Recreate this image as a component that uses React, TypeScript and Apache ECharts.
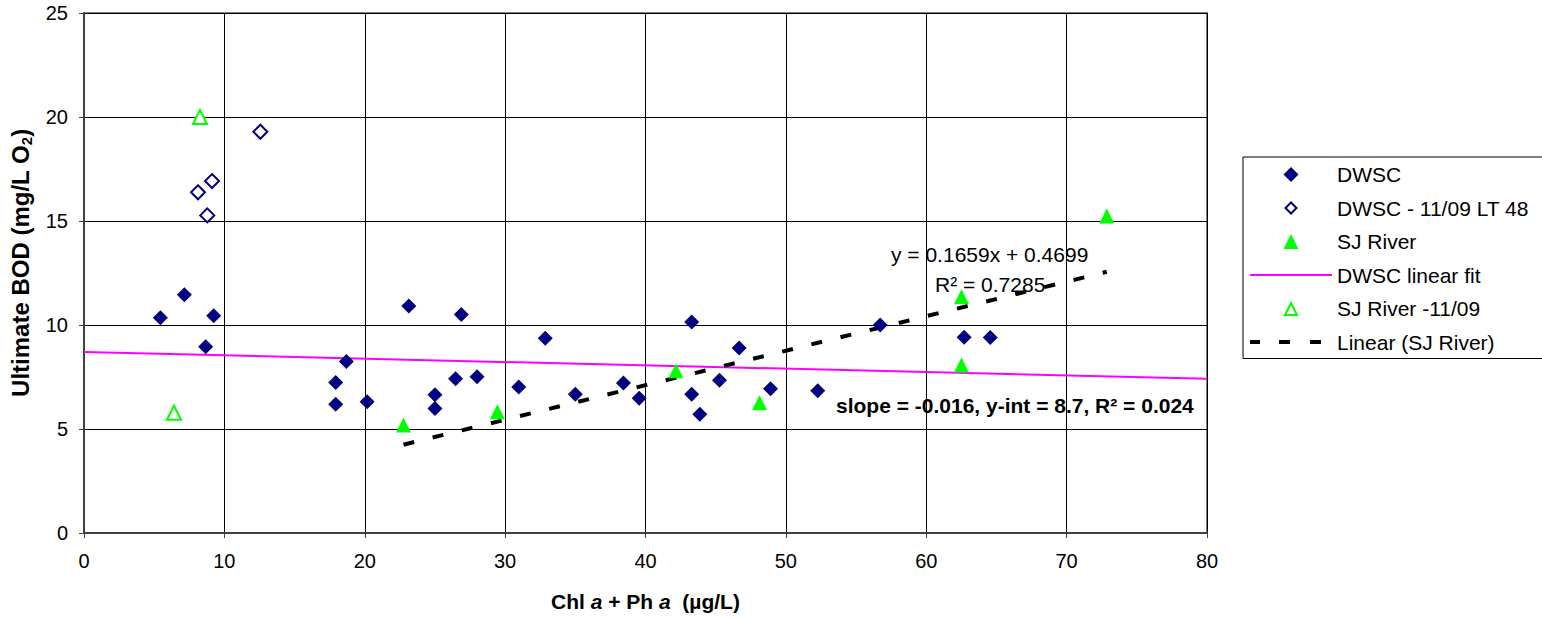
import React, { useEffect, useRef } from "react";
import * as echarts from "echarts";

// DWSC (filled diamonds)
const dwscX = [5.44, 7.15, 8.67, 9.24, 17.93, 17.93, 18.69, 20.17, 23.14, 25.0, 25.0, 26.47, 26.88, 28.0, 30.97, 32.86, 35.0, 38.43, 39.55, 43.29, 43.29, 43.87, 45.27, 46.67, 48.91, 52.27, 56.72, 62.7, 64.56];
const dwscY = [10.35, 11.46, 8.96, 10.45, 7.24, 6.19, 8.24, 6.31, 10.91, 6.65, 5.98, 7.42, 10.51, 7.51, 7.02, 9.36, 6.67, 7.21, 6.48, 10.14, 6.67, 5.71, 7.34, 8.89, 6.94, 6.84, 10.0, 9.41, 9.4];
// DWSC - 11/09 LT 48 (open diamonds)
const dwscLtX = [12.56, 9.12, 8.12, 8.78];
const dwscLtY = [19.29, 16.92, 16.38, 15.27];
// SJ River (filled triangles)
const sjX = [22.76, 29.45, 42.17, 48.12, 62.51, 62.51, 72.86];
const sjY = [5.19, 5.83, 7.8, 6.26, 8.08, 11.36, 15.24];
// SJ River -11/09 (open triangles)
const sjNovX = [8.26, 6.41];
const sjNovY = [20.0, 5.78];
// DWSC linear fit: slope -0.016, intercept 8.7, drawn across 0..80
const dwscFitSlope = -0.016;
const dwscFitIntercept = 8.7;
const dwscFitRange = [0, 80];
// Linear (SJ River): y = 0.1659x + 0.4699 over SJ River x range
const sjFitSlope = 0.1659;
const sjFitIntercept = 0.4699;
const sjFitRange = [22.76, 72.86];

const xTicks = { min: 0, max: 80, interval: 10 };
const yTicks = { min: 0, max: 25, interval: 5 };

const FONT = "'Liberation Sans', Arial, sans-serif";

// Legend icons (82 x 15 boxes; corner moveTos fix the bounding box)
const BOX = "M0,0 M82,15 ";
const ICON_DIAMOND = "path://" + BOX + "M41,0 L48.5,7.5 L41,15 L33.5,7.5 Z";
const ICON_DIAMOND_OPEN = "path://" + BOX + "M41,2 L46.5,7.5 L41,13 L35.5,7.5 Z";
const ICON_TRIANGLE = "path://" + BOX + "M41,0 L48.5,15 L33.5,15 Z";
const ICON_TRIANGLE_OPEN = "path://" + BOX + "M41,2 L47,14 L35,14 Z";
const ICON_LINE = "path://" + BOX + "M0,6.5 L82,6.5 L82,8.5 L0,8.5 Z";
const ICON_DASH = "path://" + BOX + "M0,5.5 L10,5.5 L10,9.5 L0,9.5 Z M29,5.5 L40,5.5 L40,9.5 L29,9.5 Z M60,5.5 L71,5.5 L71,9.5 L60,9.5 Z";

const zip = (xs: number[], ys: number[]) => xs.map((x, i) => [x, ys[i]]);
const fitLine = (r: number[], m: number, b: number) => r.map((x) => [x, m * x + b]);

export default function App() {
  const ref = useRef<HTMLDivElement>(null);
  useEffect(() => {
    if (!ref.current) return;
    const chart = echarts.init(ref.current, undefined, { renderer: "svg" });
    chart.setOption({
      animation: false,
      backgroundColor: "#fff",
      textStyle: { fontFamily: FONT, color: "#000" },
      grid: {
        left: 84,
        right: 335,
        top: 13,
        bottom: 86,
        show: true,
        borderColor: "#808080",
        borderWidth: 2,
        backgroundColor: "transparent",
      },
      xAxis: {
        type: "value",
        min: xTicks.min,
        max: xTicks.max,
        interval: xTicks.interval,
        axisLine: { show: true, onZero: false, lineStyle: { color: "#404040", width: 2 } },
        axisTick: { show: true, length: 5, lineStyle: { color: "#404040", width: 1 } },
        axisLabel: { fontSize: 20, color: "#000", margin: 18, fontFamily: FONT },
        splitLine: { show: true, lineStyle: { color: "#000", width: 1 } },
        name: "Chl {i|a} + Ph {i|a}  (µg/L)",
        nameLocation: "middle",
        nameGap: 58,
        nameTextStyle: {
          fontSize: 21,
          fontWeight: "bold",
          color: "#000",
          fontFamily: FONT,
          rich: {
            i: { fontSize: 21, fontWeight: "bold", fontStyle: "italic", fontFamily: FONT, color: "#000" },
          },
        },
      },
      yAxis: {
        type: "value",
        min: yTicks.min,
        max: yTicks.max,
        interval: yTicks.interval,
        axisLine: { show: true, onZero: false, lineStyle: { color: "#404040", width: 2 } },
        axisTick: { show: true, length: 5, lineStyle: { color: "#404040", width: 1 } },
        axisLabel: { fontSize: 20, color: "#000", margin: 16, fontFamily: FONT },
        splitLine: { show: true, lineStyle: { color: "#000", width: 1 } },
        name: "Ultimate BOD (mg/L O{s|2})",
        nameLocation: "middle",
        nameGap: 50,
        nameRotate: 90,
        nameTextStyle: {
          fontSize: 24,
          fontWeight: "bold",
          color: "#000",
          fontFamily: FONT,
          padding: [0, 0, 0, 20],
          rich: {
            s: { fontSize: 15, fontWeight: "bold", fontFamily: FONT, color: "#000", padding: [12, 0, 0, 0] },
          },
        },
      },
      legend: {
        orient: "vertical",
        left: 1243,
        top: 157,
        padding: [7, 30, 6, 6],
        itemWidth: 82,
        itemHeight: 15,
        itemGap: 12.5,
        borderColor: "#000",
        borderWidth: 1,
        backgroundColor: "#fff",
        textStyle: { fontSize: 21, color: "#000", fontFamily: FONT },
        data: [
          { name: "DWSC", icon: ICON_DIAMOND, itemStyle: { color: "#000080", borderWidth: 0 } },
          {
            name: "DWSC - 11/09 LT 48",
            icon: ICON_DIAMOND_OPEN,
            itemStyle: { color: "#ffffff", borderColor: "#000080", borderWidth: 2 },
          },
          { name: "SJ River", icon: ICON_TRIANGLE, itemStyle: { color: "#00FF00", borderWidth: 0 } },
          { name: "DWSC linear fit", icon: ICON_LINE, itemStyle: { color: "#FF00FF", borderWidth: 0 } },
          {
            name: "SJ River -11/09",
            icon: ICON_TRIANGLE_OPEN,
            itemStyle: { color: "#ffffff", borderColor: "#00FF00", borderWidth: 2 },
          },
          { name: "Linear (SJ River)", icon: ICON_DASH, itemStyle: { color: "#000000", borderWidth: 0 } },
        ],
      },
      series: [
        {
          name: "DWSC linear fit",
          type: "line",
          data: fitLine(dwscFitRange, dwscFitSlope, dwscFitIntercept),
          symbol: "none",
          lineStyle: { color: "#FF00FF", width: 2 },
          itemStyle: { color: "#FF00FF" },
          z: 2,
        },
        {
          name: "Linear (SJ River)",
          type: "line",
          data: fitLine(sjFitRange, sjFitSlope, sjFitIntercept),
          symbol: "none",
          lineStyle: { color: "#000", width: 4, type: [11, 19] },
          itemStyle: { color: "#000" },
          z: 3,
        },
        {
          name: "DWSC",
          type: "scatter",
          data: zip(dwscX, dwscY),
          symbol: "diamond",
          symbolSize: 15,
          itemStyle: { color: "#000080", opacity: 1 },
          z: 4,
        },
        {
          name: "DWSC - 11/09 LT 48",
          type: "scatter",
          data: zip(dwscLtX, dwscLtY),
          symbol: "emptyDiamond",
          symbolSize: 14,
          itemStyle: { color: "#000080", borderColor: "#000080", borderWidth: 2, opacity: 1 },
          z: 4,
        },
        {
          name: "SJ River",
          type: "scatter",
          data: zip(sjX, sjY),
          symbol: "triangle",
          symbolSize: 15,
          itemStyle: { color: "#00FF00", opacity: 1 },
          z: 5,
        },
        {
          name: "SJ River -11/09",
          type: "scatter",
          data: zip(sjNovX, sjNovY),
          symbol: "emptyTriangle",
          symbolSize: 14,
          itemStyle: { color: "#00FF00", borderColor: "#00FF00", borderWidth: 2, opacity: 1 },
          z: 5,
        },
      ],
      graphic: [
        {
          type: "text",
          left: 891,
          top: 244,
          z: 10,
          style: { text: "y = 0.1659x + 0.4699", fontSize: 21, fill: "#000", fontFamily: FONT },
        },
        {
          type: "text",
          left: 935,
          top: 274,
          z: 10,
          style: { text: "R² = 0.7285", fontSize: 21, fill: "#000", fontFamily: FONT },
        },
        {
          type: "text",
          left: 836,
          top: 395,
          z: 10,
          style: {
            text: "slope = -0.016, y-int = 8.7, R² = 0.024",
            fontSize: 21,
            fontWeight: "bold",
            fill: "#000",
            fontFamily: FONT,
          },
        },
      ],
    });
    return () => chart.dispose();
  }, []);
  return <div ref={ref} style={{ width: 1542, height: 619, position: "absolute", left: 0, top: 0 }} />;
}
